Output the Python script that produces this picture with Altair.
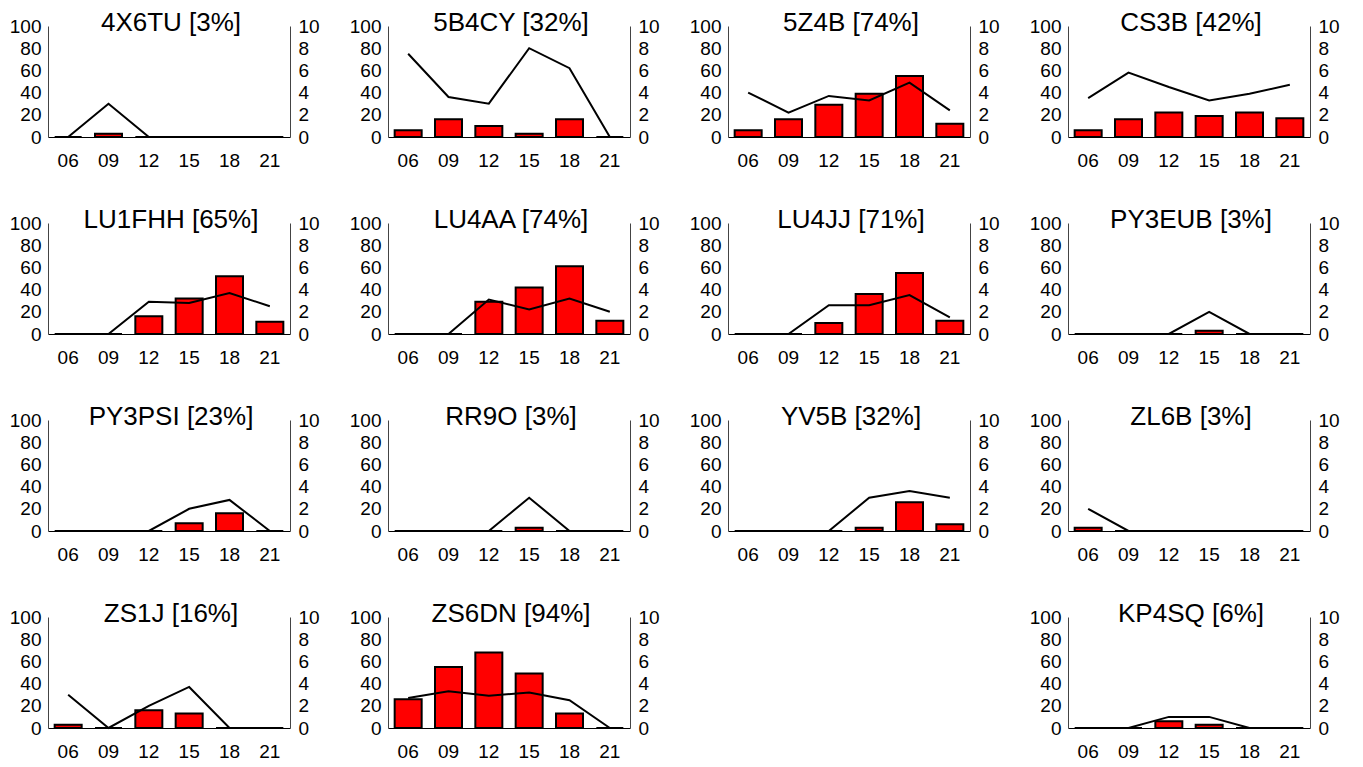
import altair as alt
import pandas as pd

HOURS = ["06", "09", "12", "15", "18", "21"]

STATIONS = ["4X6TU", "5B4CY", "5Z4B", "CS3B", "LU1FHH", "LU4AA", "LU4JJ", "PY3EUB",
            "PY3PSI", "RR9O", "YV5B", "ZL6B", "ZS1J", "ZS6DN", None, "KP4SQ"]
PERCENT = {"4X6TU": 3, "5B4CY": 32, "5Z4B": 74, "CS3B": 42, "LU1FHH": 65, "LU4AA": 74,
           "LU4JJ": 71, "PY3EUB": 3, "PY3PSI": 23, "RR9O": 3, "YV5B": 32, "ZL6B": 3,
           "ZS1J": 16, "ZS6DN": 94, "KP4SQ": 6}

# bar values (left axis, 0-100)
bars_4X6TU = [0, 3, 0, 0, 0, 0]
bars_5B4CY = [6, 16, 10, 3, 16, 0]
bars_5Z4B = [6, 16, 29, 39, 55, 12]
bars_CS3B = [6, 16, 22, 19, 22, 17]
bars_LU1FHH = [0, 0, 16, 32, 52, 11]
bars_LU4AA = [0, 0, 29, 42, 61, 12]
bars_LU4JJ = [0, 0, 10, 36, 55, 12]
bars_PY3EUB = [0, 0, 0, 3, 0, 0]
bars_PY3PSI = [0, 0, 0, 7, 16, 0]
bars_RR9O = [0, 0, 0, 3, 0, 0]
bars_YV5B = [0, 0, 0, 3, 26, 6]
bars_ZL6B = [3, 0, 0, 0, 0, 0]
bars_ZS1J = [3, 0, 16, 13, 0, 0]
bars_ZS6DN = [26, 55, 68, 49, 13, 0]
bars_KP4SQ = [0, 0, 6, 3, 0, 0]

# line values (right axis, 0-10)
line_4X6TU = [0, 3, 0, 0, 0, 0]
line_5B4CY = [7.5, 3.6, 3.0, 8.0, 6.2, 0]
line_5Z4B = [4.0, 2.2, 3.7, 3.3, 4.9, 2.4]
line_CS3B = [3.5, 5.8, 4.5, 3.3, 3.9, 4.7]
line_LU1FHH = [0, 0, 2.9, 2.8, 3.7, 2.5]
line_LU4AA = [0, 0, 3.1, 2.2, 3.2, 2.0]
line_LU4JJ = [0, 0, 2.6, 2.6, 3.5, 1.5]
line_PY3EUB = [0, 0, 0, 2.0, 0, 0]
line_PY3PSI = [0, 0, 0, 2.0, 2.8, 0]
line_RR9O = [0, 0, 0, 3.0, 0, 0]
line_YV5B = [0, 0, 0, 3.0, 3.6, 3.0]
line_ZL6B = [2.0, 0, 0, 0, 0, 0]
line_ZS1J = [3.0, 0, 2.0, 3.7, 0, 0]
line_ZS6DN = [2.7, 3.3, 2.9, 3.2, 2.5, 0]
line_KP4SQ = [0, 0, 1.0, 1.0, 0, 0]

BARS = {"4X6TU": bars_4X6TU, "5B4CY": bars_5B4CY, "5Z4B": bars_5Z4B, "CS3B": bars_CS3B,
        "LU1FHH": bars_LU1FHH, "LU4AA": bars_LU4AA, "LU4JJ": bars_LU4JJ, "PY3EUB": bars_PY3EUB,
        "PY3PSI": bars_PY3PSI, "RR9O": bars_RR9O, "YV5B": bars_YV5B, "ZL6B": bars_ZL6B,
        "ZS1J": bars_ZS1J, "ZS6DN": bars_ZS6DN, "KP4SQ": bars_KP4SQ}
LINES = {"4X6TU": line_4X6TU, "5B4CY": line_5B4CY, "5Z4B": line_5Z4B, "CS3B": line_CS3B,
         "LU1FHH": line_LU1FHH, "LU4AA": line_LU4AA, "LU4JJ": line_LU4JJ, "PY3EUB": line_PY3EUB,
         "PY3PSI": line_PY3PSI, "RR9O": line_RR9O, "YV5B": line_YV5B, "ZL6B": line_ZL6B,
         "ZS1J": line_ZS1J, "ZS6DN": line_ZS6DN, "KP4SQ": line_KP4SQ}

FONT = "Liberation Sans"
W, H = 242, 111
LBL = 19


def panel(name):
    df = pd.DataFrame({"hour": HOURS, "pct": BARS[name], "snr": LINES[name]})
    base = alt.Chart(df)
    x = alt.X("hour:N", sort=HOURS, title=None,
              scale=alt.Scale(paddingInner=0, paddingOuter=0),
              axis=alt.Axis(labelAngle=0, ticks=False, labelPadding=14, domainColor="black",
                            labelFontSize=LBL, grid=False))
    bars = base.mark_bar(fill="#ff0000", stroke="black", strokeWidth=2, size=27).encode(
        x=x,
        y=alt.Y("pct:Q", title=None, scale=alt.Scale(domain=[0, 100]),
                axis=alt.Axis(orient="left", values=[0, 20, 40, 60, 80, 100], ticks=False,
                              labelPadding=7, domainColor="#444", labelFontSize=LBL,
                              grid=False, minExtent=40, maxExtent=40)))
    line = base.mark_line(color="black", strokeWidth=2).encode(
        x=x,
        y=alt.Y("snr:Q", title=None, scale=alt.Scale(domain=[0, 10]),
                axis=alt.Axis(orient="right", values=[0, 2, 4, 6, 8, 10], ticks=False,
                              labelPadding=8, domainColor="#444", labelFontSize=LBL,
                              grid=False, minExtent=34, maxExtent=34)))
    tdf = pd.DataFrame({"t": [f"{name} [{PERCENT[name]}%]"]})
    title = alt.Chart(tdf).mark_text(fontSize=26, font=FONT, baseline="alphabetic",
                                     align="center", color="black").encode(
        text="t:N", x=alt.value(W / 2 + 2), y=alt.value(5))
    return alt.layer(bars, line, title).resolve_scale(y="independent").properties(
        width=W, height=H)


def blank():
    df = pd.DataFrame({"hour": HOURS, "pct": [0] * 6})
    return alt.Chart(df).mark_point(opacity=0).encode(
        x=alt.X("hour:N", axis=None), y=alt.Y("pct:Q", axis=None)
    ).properties(width=W, height=H)


panels = [panel(s) if s else blank() for s in STATIONS]

chart = alt.concat(*panels, columns=4,
                   spacing=alt.RowColnumber(row=37, column=24)).properties(
    padding={"left": 0, "top": 2, "right": 0, "bottom": 0}
).configure(font=FONT).configure_view(stroke=None).configure_axis(
    grid=False, labelFont=FONT, labelColor="black")

chart.save("out.html", embed_options={"renderer": "svg", "actions": False})
